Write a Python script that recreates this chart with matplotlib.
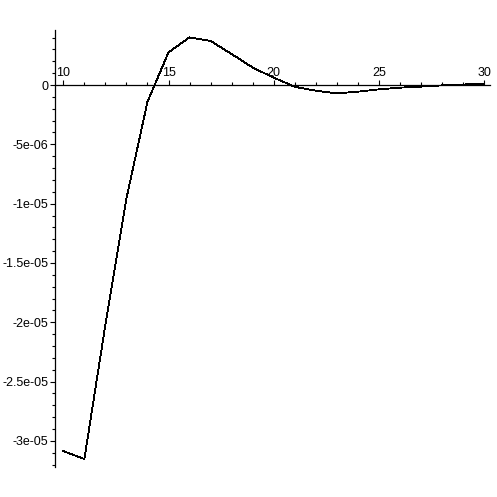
import matplotlib
matplotlib.use('Agg')
import matplotlib.pyplot as plt
from matplotlib.ticker import MultipleLocator, FuncFormatter

plt.rcParams['font.family'] = ['Liberation Sans', 'DejaVu Sans']

# sequence values, n = 10..30
n_vals = list(range(10, 31))
y_vals = [-3.086e-05, -3.153e-05, -2.02e-05, -9.55e-06, -1.40e-06,
          2.76e-06, 4.02e-06, 3.71e-06, 2.61e-06, 1.47e-06,
          0.62e-06, -0.15e-06, -0.48e-06, -0.70e-06, -0.56e-06,
          -0.36e-06, -0.22e-06, -0.13e-06, -0.03e-06, 0.05e-06,
          0.08e-06]

x_ticks = [10, 15, 20, 25, 30]
y_ticks = [0, -5e-06, -1e-05, -1.5e-05, -2e-05, -2.5e-05, -3e-05]

W = 497
fig = plt.figure(figsize=(W / 100, W / 100), dpi=100)
# axes box in pixels: x 55..490, y 30..467 (from top)
ax = fig.add_axes([55 / W, (W - 467) / W, (490 - 55) / W, (467 - 30) / W])

ax.plot(n_vals, y_vals, color='black', lw=0.6, antialiased=False)

ax.set_xlim(9.606, 30.27)
ax.set_ylim(-3.22e-05, 4.64e-06)

# maple style axes: x axis through 0 with labels on top, y axis on the left
ax.spines['right'].set_visible(False)
ax.spines['bottom'].set_visible(False)
ax.spines['top'].set_position(('data', 0))
for s in ('top', 'left'):
    ax.spines[s].set_linewidth(0.9)
ax.xaxis.set_ticks_position('top')
ax.yaxis.set_ticks_position('left')

ax.set_xticks(x_ticks)
ax.xaxis.set_minor_locator(MultipleLocator(1))
ax.set_yticks(y_ticks)
ax.yaxis.set_minor_locator(MultipleLocator(1e-06))
ax.yaxis.set_major_formatter(FuncFormatter(lambda v, p: '%g' % v))

ax.tick_params(which='major', length=3.6, width=0.8, pad=1, labelsize=9, direction='out')
ax.tick_params(which='minor', length=2.2, width=0.8, direction='out')

fig.savefig('out.png', dpi=100, facecolor='white')
